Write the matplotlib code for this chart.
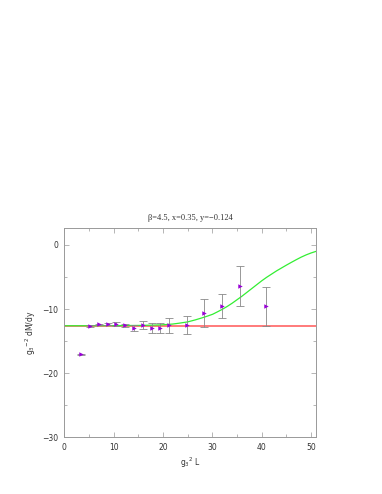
import matplotlib
matplotlib.use("Agg")
import matplotlib.pyplot as plt
from matplotlib.ticker import MultipleLocator

# data
x_pts = [3.45, 5.2, 6.97, 8.8, 10.6, 12.4, 14.1, 15.9, 17.7, 19.5, 21.2, 24.9, 28.4, 32.0, 35.6, 40.9]
y_pts = [-17.05, -12.6, -12.4, -12.3, -12.35, -12.55, -12.9, -12.45, -12.95, -12.95, -12.55, -12.45, -10.6, -9.55, -6.45, -9.55]
y_err = [0.1, 0.12, 0.15, 0.15, 0.36, 0.2, 0.47, 0.62, 0.8, 0.75, 1.2, 1.45, 2.24, 1.88, 3.1, 3.07]

plateau = -12.6

curve_x = [0, 5, 10, 15, 18, 20, 22, 23.3, 25, 26.5, 28, 29, 30.1, 31, 32, 33, 34, 35, 36, 37, 38, 39,
           40, 41, 42, 43, 44, 45, 46, 47, 48, 49, 50, 51]
curve_y = [-12.6, -12.6, -12.58, -12.55, -12.5, -12.45, -12.33, -12.2, -12.0, -11.7, -11.35, -11.1, -10.8,
           -10.45, -10.05, -9.6, -9.1, -8.55, -8.0, -7.4, -6.8, -6.2, -5.6, -5.05, -4.55, -4.05,
           -3.6, -3.15, -2.72, -2.3, -1.9, -1.55, -1.25, -1.0]

fig = plt.figure(figsize=(3.82, 4.94), dpi=100)
ax = fig.add_axes([0.168, 0.1148, 0.659, 0.4230])

ax.axhline(plateau, color="#ff7070", lw=1.3, zorder=1)
ax.plot(curve_x, curve_y, color="#33ee33", lw=0.9, zorder=2)
ax.errorbar(x_pts, y_pts, yerr=y_err, fmt="none", ecolor="#888888",
            elinewidth=0.6, capsize=2.8, capthick=0.6, zorder=3)
ax.plot(x_pts, y_pts, ">", color="#9a00d8", markersize=3.2, markeredgewidth=0, zorder=4)

ax.set_xlim(0, 51)
ax.set_ylim(-30, 2.6)
ax.xaxis.set_major_locator(MultipleLocator(10))
ax.xaxis.set_minor_locator(MultipleLocator(5))
ax.yaxis.set_major_locator(MultipleLocator(10))
ax.yaxis.set_minor_locator(MultipleLocator(5))
ax.tick_params(which="both", direction="in", top=True, right=True,
               color="#999999", labelsize=5.5, labelcolor="#333333", pad=4)
ax.tick_params(which="major", length=3.5, width=0.5)
ax.tick_params(which="minor", length=2.5, width=0.5)
for s in ax.spines.values():
    s.set_color("#999999")
    s.set_linewidth(0.7)

ax.set_xlabel(r"g$_3$$^2$ L", fontsize=5.5, color="#333333", labelpad=3)
ax.set_ylabel(r"g$_3$$^{-2}$ dM/dy", fontsize=5.5, color="#333333", labelpad=3)
ax.set_title("β=4.5, x=0.35, y=−0.124", fontsize=6, family="Liberation Serif",
             color="#333333", pad=6)

fig.savefig("out.png", dpi=100)
